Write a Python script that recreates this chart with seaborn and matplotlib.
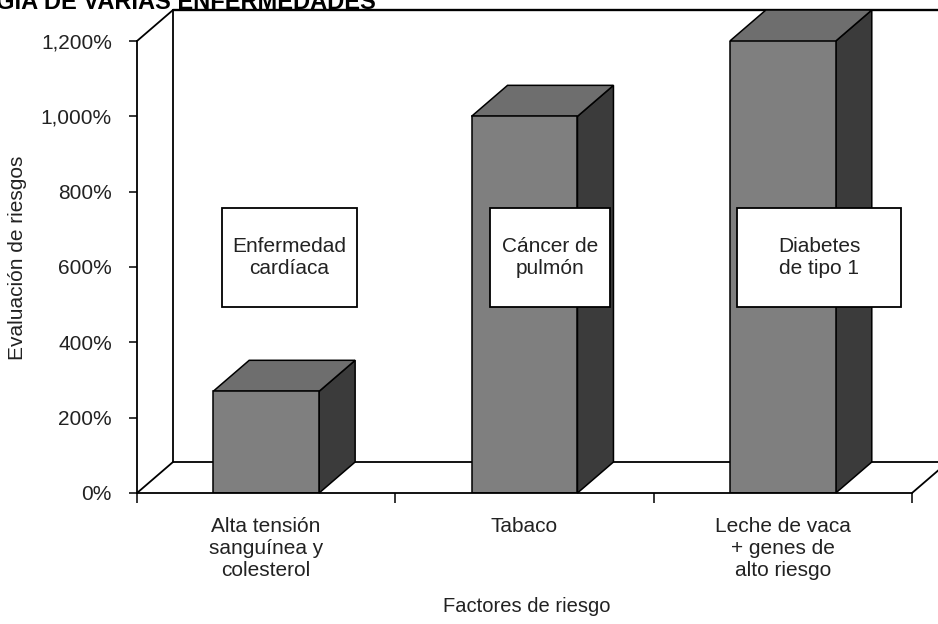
import matplotlib
matplotlib.use("Agg")
import matplotlib.pyplot as plt
from matplotlib.patches import Polygon, Rectangle
import seaborn as sns

# datos del grafico
categorias = ["Alta tensión\nsanguínea y\ncolesterol", "Tabaco",
              "Leche de vaca\n+ genes de\nalto riesgo"]
riesgo = [270, 1000, 1200]
enfermedades = ["Enfermedad\ncardíaca", "Cáncer de\npulmón", "Diabetes\nde tipo 1"]
yticks = [0, 200, 400, 600, 800, 1000, 1200]
ytick_labels = ["0%", "200%", "400%", "600%", "800%", "1,000%", "1,200%"]
titulo = "GÍA DE VARIAS ENFERMEDADES"

sns.set_theme(style="white")
plt.rcParams["font.family"] = ["Liberation Sans", "DejaVu Sans"]

W, H = 938, 624
fig = plt.figure(figsize=(W / 100, H / 100), dpi=100)
# plano frontal de los ejes (pixeles)
x0, x1, yb, yt = 137, 912, 493, 41
ax = fig.add_axes([x0 / W, (H - yb) / H, (x1 - x0) / W, (yb - yt) / H])

df = {"cat": categorias, "val": riesgo}
sns.barplot(x="cat", y="val", data=df, ax=ax, color="#7f7f7f", saturation=1,
            width=0.41, edgecolor="black", linewidth=1.1, zorder=2)
ax.set_xlim(-0.5, len(categorias) - 0.5)
ax.set_ylim(0, 1200)

# profundidad 3D en unidades de datos
dx = 36 / (x1 - x0) * len(categorias)
dy = 31 / (yb - yt) * 1200
lw = 1.3
xa, xb = -0.5, len(categorias) - 0.5

# paredes y suelo
ax.plot([xa + dx, xa + dx], [dy, 1200 + dy], color="black", lw=lw, clip_on=False, zorder=0.5)
ax.plot([xa + dx, xb + 0.5], [1200 + dy, 1200 + dy], color="black", lw=lw * 1.3, clip_on=False, zorder=0.5)
ax.plot([xa + dx, xb + 0.5], [dy, dy], color="black", lw=lw, clip_on=False, zorder=0.5)
ax.plot([xa, xa + dx], [0, dy], color="black", lw=lw, clip_on=False, zorder=0.5)
ax.plot([xa, xa + dx], [1200, 1200 + dy], color="black", lw=lw, clip_on=False, zorder=0.5)
ax.plot([xb, xb + dx], [0, dy], color="black", lw=lw, clip_on=False, zorder=0.5)

# caras lateral y superior de cada barra
for p in ax.patches:
    bx0 = p.get_x()
    bx1 = bx0 + p.get_width()
    h = p.get_height()
    side = Polygon([(bx1, 0), (bx1, h), (bx1 + dx, h + dy), (bx1 + dx, dy)],
                   closed=True, fc="#3b3b3b", ec="black", lw=1.1, clip_on=False, zorder=1.9)
    top = Polygon([(bx0, h), (bx1, h), (bx1 + dx, h + dy), (bx0 + dx, h + dy)],
                  closed=True, fc="#6e6e6e", ec="black", lw=1.1, clip_on=False, zorder=1.9)
    ax.add_patch(side)
    ax.add_patch(top)

# cuadros con el nombre de la enfermedad
box_dx = [0.09, 0.10, 0.14]
box_w = [0.523, 0.464, 0.631]
box_yc, box_h = 625, 263
for i, txt in enumerate(enfermedades):
    cx = i + box_dx[i]
    ax.add_patch(Rectangle((cx - box_w[i] / 2, box_yc - box_h / 2), box_w[i], box_h,
                           fc="white", ec="black", lw=1.3, zorder=3))
    ax.text(cx, box_yc, txt, ha="center", va="center", fontsize=15,
            color="#222222", linespacing=1.2, zorder=4)

# ejes
for s in ["top", "right"]:
    ax.spines[s].set_visible(False)
for s in ["left", "bottom"]:
    ax.spines[s].set_color("black")
    ax.spines[s].set_linewidth(lw)
    ax.spines[s].set_zorder(2.5)

ax.set_yticks(yticks)
ax.set_yticklabels(ytick_labels)
ax.tick_params(axis="y", direction="out", length=6, width=1.1, pad=12,
               labelsize=15, color="black", left=True, labelcolor="#222222")
ax.set_xticks(range(len(categorias)))
ax.set_xticklabels(categorias, linespacing=1.2)
ax.set_xticks([xa + i for i in range(len(categorias) + 1)], minor=True)
ax.tick_params(axis="x", which="major", length=0, pad=17, labelsize=15, labelcolor="#222222")
ax.tick_params(axis="x", which="minor", direction="out", length=7, width=1.1,
               color="black", bottom=True)
ax.set_xlabel("")
ax.set_ylabel("")

fig.text(18 / W, 1 - 258 / H, "Evaluación de riesgos", rotation=90, ha="center",
         va="center", fontsize=15, color="#222222")
fig.text(527 / W, 1 - 607 / H, "Factores de riesgo", ha="center", va="center",
         fontsize=14.5, color="#222222")
fig.text(-0.004, 1 - 9 / H, titulo, ha="left", va="baseline", fontsize=17,
         fontweight="bold", color="black")

fig.savefig("out.png", dpi=100)
